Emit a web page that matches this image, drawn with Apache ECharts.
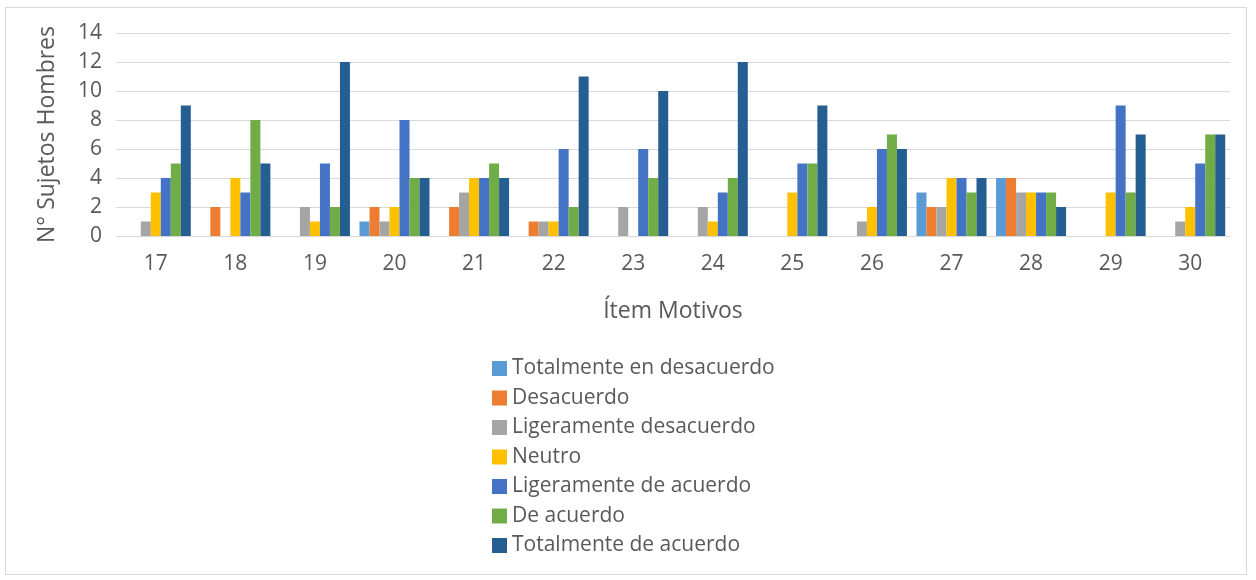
<!DOCTYPE html>
<html>
<head>
<meta charset="utf-8">
<script src="https://cdn.jsdelivr.net/npm/echarts@6/dist/echarts.min.js"></script>
<style>
    html, body { margin: 0; padding: 0; background: #fff; }
    #frame { position: absolute; left: 5px; top: 7px; width: 1242px; height: 568px; border: 1px solid #d9d9d9; box-sizing: border-box; }
    #chart { width: 1256px; height: 580px; }
</style>
</head>
<body>
<div id="frame"></div>
<div id="chart"></div>
<script>
// categorías (ítems) y valores por respuesta
var items = ['17', '18', '19', '20', '21', '22', '23', '24', '25', '26', '27', '28', '29', '30'];
var yTicks = [0, 2, 4, 6, 8, 10, 12, 14];

var totalDesacuerdo   = [0, 0, 0, 1, 0, 0, 0, 0, 0, 0, 3, 4, 0, 0];
var desacuerdo        = [0, 2, 0, 2, 2, 1, 0, 0, 0, 0, 2, 4, 0, 0];
var ligDesacuerdo     = [1, 0, 2, 1, 3, 1, 2, 2, 0, 1, 2, 3, 0, 1];
var neutro            = [3, 4, 1, 2, 4, 1, 0, 1, 3, 2, 4, 3, 3, 2];
var ligAcuerdo        = [4, 3, 5, 8, 4, 6, 6, 3, 5, 6, 4, 3, 9, 5];
var deAcuerdo         = [5, 8, 2, 4, 5, 2, 4, 4, 5, 7, 3, 3, 3, 7];
var totalAcuerdo      = [9, 5, 12, 4, 4, 11, 10, 12, 9, 6, 4, 2, 7, 7];

var seriesNames = ['Totalmente en desacuerdo', 'Desacuerdo', 'Ligeramente desacuerdo', 'Neutro',
    'Ligeramente de acuerdo', 'De acuerdo', 'Totalmente de acuerdo'];
var seriesData = [totalDesacuerdo, desacuerdo, ligDesacuerdo, neutro, ligAcuerdo, deAcuerdo, totalAcuerdo];
var colors = ['#5B9BD5', '#ED7D31', '#A5A5A5', '#FFC000', '#4472C4', '#70AD47', '#255E91'];

var chart = echarts.init(document.getElementById('chart'));

var series = seriesNames.map(function (name, i) {
    return {
        name: name,
        type: 'bar',
        barGap: '0%',
        barCategoryGap: '12%',
        itemStyle: { color: colors[i] },
        data: seriesData[i]
    };
});

var option = {
    color: colors,
    textStyle: { fontFamily: 'Open Sans', color: '#595959' },
    grid: { left: 116, right: 26, top: 33, bottom: 344 },
    legend: {
        orient: 'vertical',
        left: 487,
        top: 353,
        itemWidth: 15,
        itemHeight: 15,
        itemGap: 8.5,
        icon: 'rect',
        textStyle: { fontSize: 21, color: '#595959', fontFamily: 'Open Sans' },
        data: seriesNames
    },
    xAxis: {
        type: 'category',
        data: items,
        name: 'Ítem Motivos',
        nameLocation: 'middle',
        nameGap: 64,
        nameTextStyle: { fontSize: 23, color: '#595959' },
        axisLine: { show: true, lineStyle: { color: '#d9d9d9' } },
        axisTick: { show: false },
        axisLabel: { fontSize: 21, color: '#595959', margin: 18 }
    },
    yAxis: {
        type: 'value',
        min: yTicks[0],
        max: yTicks[yTicks.length - 1],
        interval: 2,
        name: 'N° Sujetos Hombres',
        nameLocation: 'middle',
        nameGap: 57,
        nameTextStyle: { fontSize: 23, color: '#595959' },
        axisLine: { show: false },
        axisTick: { show: false },
        axisLabel: { fontSize: 21, color: '#595959', margin: 14 },
        splitLine: { lineStyle: { color: '#d9d9d9', width: 1 } }
    },
    series: series
};

chart.setOption(option);
</script>
</body>
</html>
